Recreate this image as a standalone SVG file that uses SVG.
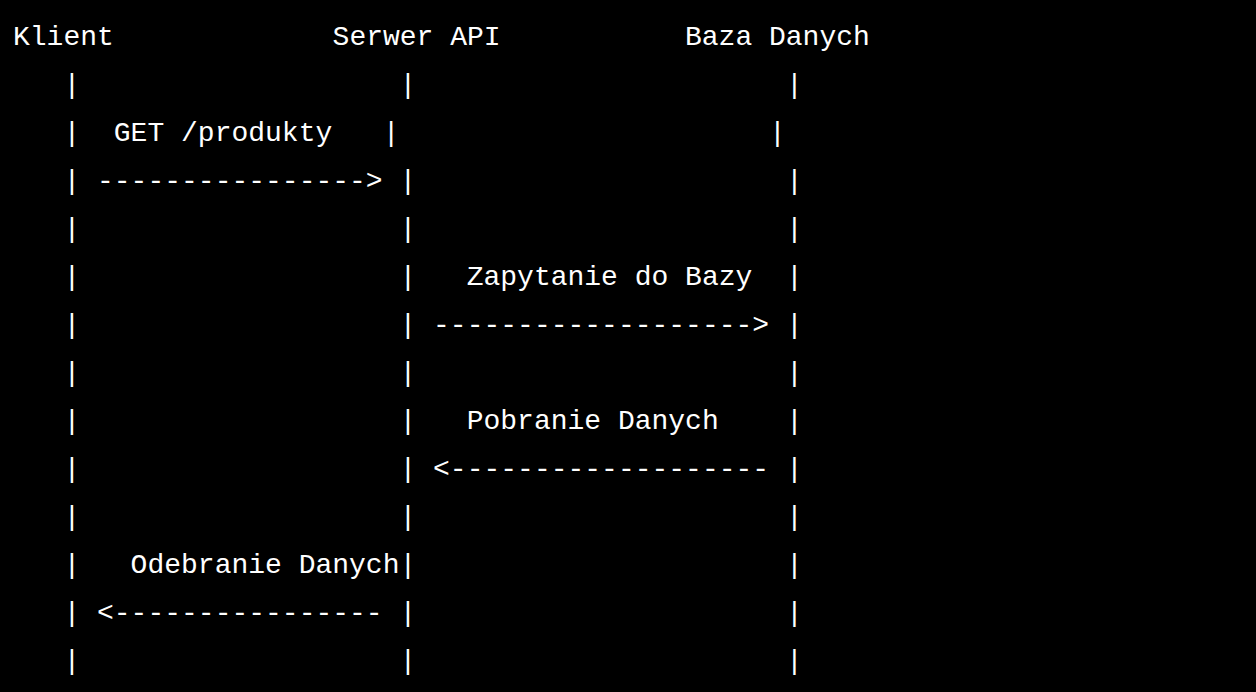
<svg xmlns="http://www.w3.org/2000/svg" width="1256" height="692" viewBox="0 0 1256 692">
<style>
text{font-family:"Liberation Mono","DejaVu Sans Mono",monospace;font-size:28px;fill:#ffffff;white-space:pre}
</style>
<rect x="0" y="0" width="1256" height="692" fill="#000000"/>
<g id="header">
<g id="node-klient"><text x="13" y="45">Klient</text></g>
<g id="node-serwer"><text x="332.6" y="45">Serwer API</text></g>
<g id="node-baza"><text x="685" y="45">Baza Danych</text></g>
</g>
<g id="connectors" xml:space="preserve">
<text x="13" y="93">   |                   |                      |</text>
<text x="13" y="141">   |  GET /produkty   |                      |</text>
<text x="13" y="189">   | ----------------&gt; |                      |</text>
<text x="13" y="237">   |                   |                      |</text>
<text x="13" y="285">   |                   |   Zapytanie do Bazy  |</text>
<text x="13" y="333">   |                   | -------------------&gt; |</text>
<text x="13" y="381">   |                   |                      |</text>
<text x="13" y="429">   |                   |   Pobranie Danych    |</text>
<text x="13" y="477">   |                   | &lt;------------------- |</text>
<text x="13" y="525">   |                   |                      |</text>
<text x="13" y="573">   |   Odebranie Danych|                      |</text>
<text x="13" y="621">   | &lt;---------------- |                      |</text>
<text x="13" y="669">   |                   |                      |</text>
</g>
</svg>
